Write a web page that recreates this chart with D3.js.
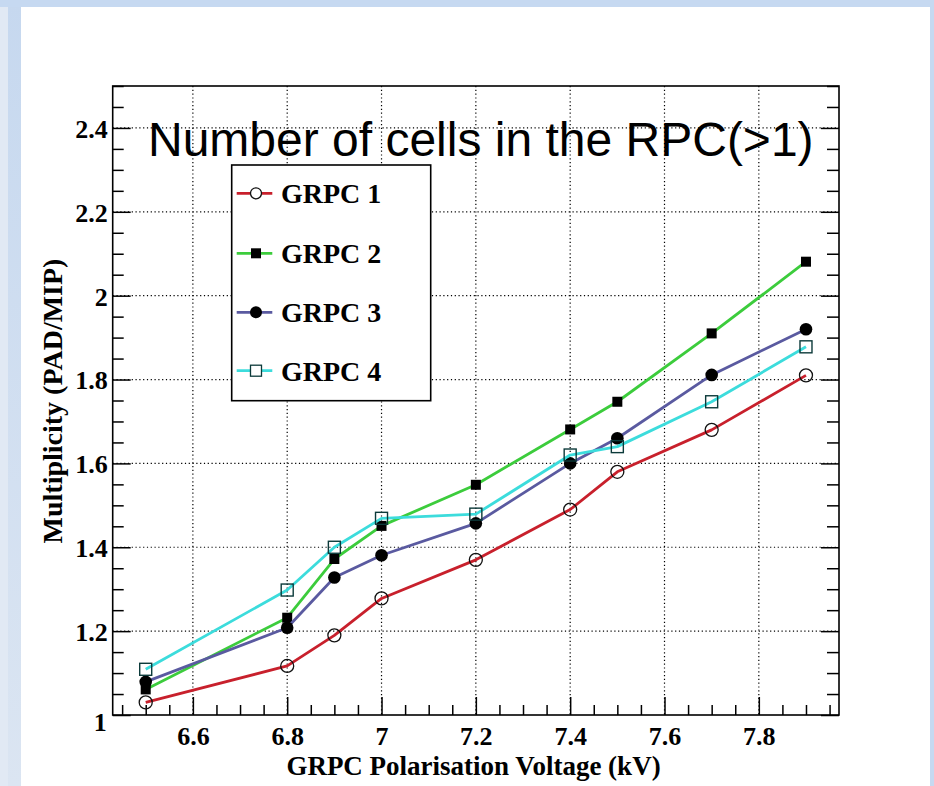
<!DOCTYPE html>
<html>
<head>
<meta charset="utf-8">
<script src="https://cdn.jsdelivr.net/npm/d3@7"></script>
<style>
html,body{margin:0;padding:0;background:#fff;}
svg{display:block;}
</style>
</head>
<body>
<svg id="chart" width="934" height="786"></svg>
<script>
// ---- data ----
const voltages = [6.5, 6.8, 6.9, 7.0, 7.2, 7.4, 7.5, 7.7, 7.9];
const grpc1 = [1.03, 1.117, 1.19, 1.278, 1.37, 1.49, 1.58, 1.68, 1.81];
const grpc2 = [1.061, 1.232, 1.372, 1.451, 1.549, 1.681, 1.747, 1.91, 2.081];
const grpc3 = [1.079, 1.208, 1.328, 1.381, 1.457, 1.60, 1.66, 1.811, 1.92];
const grpc4 = [1.109, 1.298, 1.40, 1.469, 1.479, 1.62, 1.64, 1.747, 1.878];
const seriesNames = ["GRPC 1", "GRPC 2", "GRPC 3", "GRPC 4"];
const xTickValues = [6.6, 6.8, 7.0, 7.2, 7.4, 7.6, 7.8];
const yTickValues = [1.0, 1.2, 1.4, 1.6, 1.8, 2.0, 2.2, 2.4];
const titleText = "Number of cells in the RPC(>1)";
const xLabel = "GRPC Polarisation Voltage (kV)";
const yLabel = "Multiplicity (PAD/MIP)";

const seriesStyle = [
  {color: "#c8202c", marker: "opencircle"},
  {color: "#3ccc3c", marker: "square"},
  {color: "#5a5aa0", marker: "circle"},
  {color: "#3cdcdc", marker: "opensquare"}
];
const seriesValues = [grpc1, grpc2, grpc3, grpc4];

const svg = d3.select("#chart");

// page background (slide frame)
const defs = svg.append("defs");
const lg = defs.append("linearGradient").attr("id","leftGrad").attr("x1",0).attr("x2",0).attr("y1",0).attr("y2",1);
lg.append("stop").attr("offset","0").attr("stop-color","#c6d8ef");
lg.append("stop").attr("offset","1").attr("stop-color","#dbe5f2");
svg.append("rect").attr("x",0).attr("y",0).attr("width",934).attr("height",786).attr("fill","#fff");
svg.append("rect").attr("x",0).attr("y",0).attr("width",8).attr("height",786).attr("fill","#e1e9f4");
svg.append("rect").attr("x",8).attr("y",0).attr("width",13).attr("height",786).attr("fill","url(#leftGrad)");
svg.append("rect").attr("x",0).attr("y",0).attr("width",934).attr("height",7).attr("fill","#c6d9f1");
svg.append("rect").attr("x",930).attr("y",0).attr("width",4).attr("height",786).attr("fill","#c6d9f1");

// scales
const L = 112.7, R = 839, T = 86, B = 715;
const x = d3.scaleLinear().domain([6.43, 7.97]).range([L, R]);
const y = d3.scaleLinear().domain([1.0, 2.5]).range([B, T]);

const g = svg.append("g");

// grid (dotted)
g.append("g").selectAll("line").data(xTickValues).join("line")
  .attr("x1", d => x(d)).attr("x2", d => x(d)).attr("y1", T).attr("y2", B)
  .attr("stroke", "#000").attr("stroke-width", 1.2).attr("stroke-dasharray", "1.2,2.6");
g.append("g").selectAll("line").data(yTickValues.filter(v => v > 1.0)).join("line")
  .attr("x1", L).attr("x2", R).attr("y1", d => y(d)).attr("y2", d => y(d))
  .attr("stroke", "#000").attr("stroke-width", 1.2).attr("stroke-dasharray", "1.2,2.6");

// axes using d3 axis generators
const xMinor = d3.range(6.45, 7.96, 0.05).map(v => +v.toFixed(2));
const yMinor = d3.range(1.0, 2.5001, 0.05).map(v => +v.toFixed(2));

const fmt = d => (Math.round(d*10)/10).toString();
const tickFont = 26;

// bottom axis major ticks with labels
const xAxis = d3.axisBottom(x).tickValues(xTickValues).tickSizeInner(-18).tickSizeOuter(0).tickPadding(30).tickFormat(fmt);
const gx = g.append("g").attr("transform", `translate(0,${B})`).call(xAxis);
gx.select(".domain").remove();
gx.selectAll(".tick line").attr("stroke","#000").attr("stroke-width",1.5);
gx.selectAll(".tick text").attr("font-family","'Liberation Serif', 'Times New Roman', serif")
  .attr("font-weight","bold").attr("font-size",tickFont).attr("fill","#000").attr("dy", 0).attr("y", 30);
// bottom minor
const xAxisMinor = d3.axisBottom(x).tickValues(xMinor.filter(v => !xTickValues.some(t => Math.abs(t - v) < 1e-6))).tickSizeInner(-10).tickSizeOuter(0).tickFormat("");
const gxm = g.append("g").attr("transform", `translate(0,${B})`).call(xAxisMinor);
gxm.select(".domain").remove();
gxm.selectAll(".tick line").attr("stroke","#000").attr("stroke-width",1.5);

// left axis
const yAxis = d3.axisLeft(y).tickValues(yTickValues).tickSizeInner(-18).tickSizeOuter(0).tickPadding(5).tickFormat(fmt);
const gy = g.append("g").attr("transform", `translate(${L},0)`).call(yAxis);
gy.select(".domain").remove();
gy.selectAll(".tick line").attr("stroke","#000").attr("stroke-width",1.5);
gy.selectAll(".tick text").attr("font-family","'Liberation Serif', 'Times New Roman', serif")
  .attr("font-weight","bold").attr("font-size",tickFont).attr("fill","#000").attr("x",-5).attr("dy","0.36em");
gy.selectAll(".tick").filter(d => d === 1.0).select("text").attr("dy","0.6em").attr("x", -6);
const yAxisMinor = d3.axisLeft(y).tickValues(yMinor.filter(v => !yTickValues.some(t => Math.abs(t - v) < 1e-6))).tickSizeInner(-11).tickSizeOuter(0).tickFormat("");
const gym = g.append("g").attr("transform", `translate(${L},0)`).call(yAxisMinor);
gym.select(".domain").remove();
gym.selectAll(".tick line").attr("stroke","#000").attr("stroke-width",1.5);

// right axis ticks (mirror)
const yAxisR = d3.axisRight(y).tickValues(yTickValues).tickSizeInner(-18).tickSizeOuter(0).tickFormat("");
const gyr = g.append("g").attr("transform", `translate(${R},0)`).call(yAxisR);
gyr.select(".domain").remove();
gyr.selectAll(".tick line").attr("stroke","#000").attr("stroke-width",1.5);
const yAxisRm = d3.axisRight(y).tickValues(yMinor.filter(v => !yTickValues.some(t => Math.abs(t - v) < 1e-6))).tickSizeInner(-12).tickSizeOuter(0).tickFormat("");
const gyrm = g.append("g").attr("transform", `translate(${R},0)`).call(yAxisRm);
gyrm.select(".domain").remove();
gyrm.selectAll(".tick line").attr("stroke","#000").attr("stroke-width",1.5);

// frame
g.append("rect").attr("x", L).attr("y", T).attr("width", R - L).attr("height", B - T)
  .attr("fill","none").attr("stroke","#000").attr("stroke-width",1.6);

// series lines
const line = d3.line().x(d => x(d[0])).y(d => y(d[1]));
function drawMarker(sel, type, cx, cy, col) {
  if (type === "opencircle") {
    sel.append("circle").attr("cx",cx).attr("cy",cy).attr("r",6.5).attr("fill","none").attr("stroke","#111").attr("stroke-width",1.3);
  } else if (type === "square") {
    sel.append("rect").attr("x",cx-5).attr("y",cy-5).attr("width",10).attr("height",10).attr("fill","#000");
  } else if (type === "circle") {
    sel.append("circle").attr("cx",cx).attr("cy",cy).attr("r",6.3).attr("fill","#000");
  } else if (type === "opensquare") {
    sel.append("rect").attr("x",cx-6).attr("y",cy-6).attr("width",12).attr("height",12).attr("fill","none").attr("stroke","#0c3a3a").attr("stroke-width",1.4);
  }
}
seriesValues.forEach((vals, i) => {
  const pts = voltages.map((v, j) => [v, vals[j]]);
  const sg = g.append("g");
  sg.append("path").datum(pts).attr("d", line).attr("fill","none")
    .attr("stroke", seriesStyle[i].color).attr("stroke-width", 2.8).attr("stroke-linejoin","round");
  pts.forEach(p => drawMarker(sg, seriesStyle[i].marker, x(p[0]), y(p[1]), seriesStyle[i].color));
});

// title
svg.append("text").attr("x", 148).attr("y", 156).text(titleText)
  .attr("font-family","'Liberation Sans', Arial, sans-serif").attr("font-size", 48).attr("fill","#000");

// legend
const leg = svg.append("g");
leg.append("rect").attr("x",231.7).attr("y",165).attr("width",199).attr("height",235.7)
  .attr("fill","#fff").attr("stroke","#000").attr("stroke-width",1.6);
const legY = [193.3, 253.3, 312.3, 370.7];
seriesNames.forEach((name, i) => {
  const cy = legY[i];
  leg.append("line").attr("x1",236.7).attr("x2",272.3).attr("y1",cy).attr("y2",cy)
    .attr("stroke", seriesStyle[i].color).attr("stroke-width",2.8);
  const mg = leg.append("g");
  if (seriesStyle[i].marker === "opencircle") {
    mg.append("circle").attr("cx",256).attr("cy",cy).attr("r",5.5).attr("fill","#fff").attr("stroke","#111").attr("stroke-width",1.3);
  } else if (seriesStyle[i].marker === "square") {
    mg.append("rect").attr("x",251).attr("y",cy-5).attr("width",10).attr("height",10).attr("fill","#000");
  } else if (seriesStyle[i].marker === "circle") {
    mg.append("circle").attr("cx",256).attr("cy",cy).attr("r",6).attr("fill","#000");
  } else {
    mg.append("rect").attr("x",250.5).attr("y",cy-5.5).attr("width",11).attr("height",11).attr("fill","#fff").attr("stroke","#0c3a3a").attr("stroke-width",1.3);
  }
  leg.append("text").attr("x",281).attr("y",cy+10).text(name)
    .attr("font-family","'Liberation Serif', 'Times New Roman', serif").attr("font-weight","bold")
    .attr("font-size",28).attr("fill","#000");
});

// axis titles
svg.append("text").attr("x", 473.5).attr("y", 775).attr("text-anchor","middle").text(xLabel)
  .attr("font-family","'Liberation Serif', 'Times New Roman', serif").attr("font-weight","bold")
  .attr("font-size",27).attr("fill","#000");
svg.append("text").attr("transform","translate(62,401) rotate(-90)").attr("text-anchor","middle").text(yLabel)
  .attr("font-family","'Liberation Serif', 'Times New Roman', serif").attr("font-weight","bold")
  .attr("font-size",28).attr("fill","#000");
</script>
</body>
</html>
